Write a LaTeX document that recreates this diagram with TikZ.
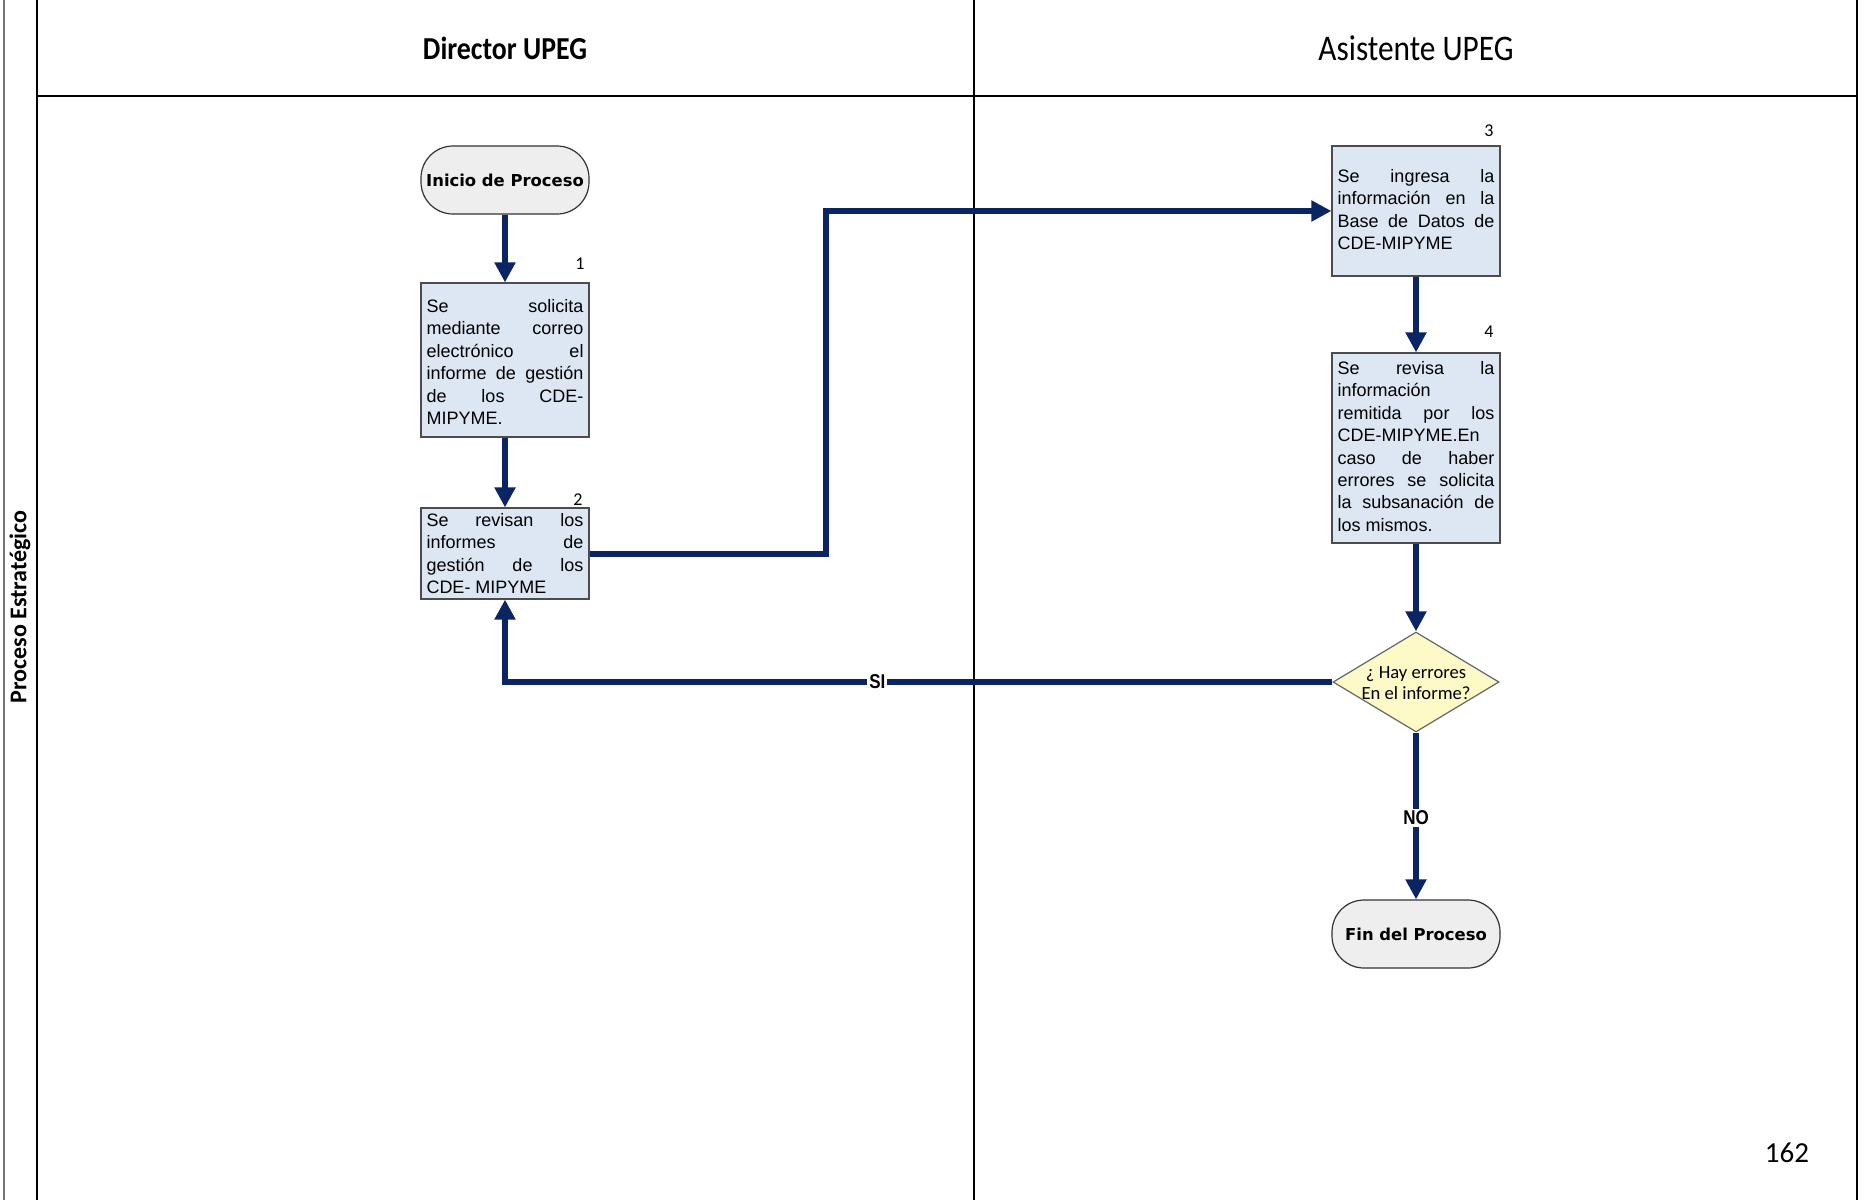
\documentclass[tikz,border=0pt]{standalone}
\usepackage{fontspec}
\usetikzlibrary{arrows.meta,shapes.geometric}
\newfontfamily\boxfont{Liberation Sans}
\newfontfamily\termfont{DejaVu Sans}
\newfontfamily\calfont{Carlito}
\newfontfamily\hdrfont[FakeStretch=0.87]{Carlito}
\newfontfamily\narrowfont[FakeStretch=0.85]{Liberation Sans}
\definecolor{flowblue}{RGB}{10,36,100}
\definecolor{boxblue}{RGB}{221,231,243}
\definecolor{termgray}{RGB}{238,238,238}
\definecolor{decyellow}{RGB}{253,250,200}
% paragraph settings for the justified step texts: no hyphenation, no extra breaks
\newcommand\stepparsettings{\hyphenpenalty=10000 \exhyphenpenalty=10000 \tolerance=10000 \hbadness=10000\relax}
\tikzset{
  lane/.style={line width=1pt, draw=black},
  stepbox/.style={rectangle, draw=black!70, fill=boxblue, line width=0.6pt,
    minimum width=84pt, inner sep=0pt},
  steptext/.style={anchor=north, inner sep=0pt, text width=78.5pt, align=justify,
    font=\boxfont\fontsize{9}{11.2}\selectfont\stepparsettings},
  terminal/.style={rectangle, rounded corners=16pt, draw=black!80, fill=termgray,
    line width=0.6pt, minimum width=84pt, minimum height=34pt, inner xsep=1pt,
    font=\termfont\bfseries\fontsize{8.2}{10}\selectfont},
  decision/.style={diamond, draw=black!60, fill=decyellow, line width=0.6pt,
    minimum width=83pt, minimum height=50pt, inner sep=0pt},
  dectext/.style={align=center, inner sep=0pt, font=\calfont\fontsize{9.3}{10.7}\selectfont},
  numlabel/.style={inner sep=0pt, font=\calfont\fontsize{9}{10}\selectfont},
  flow/.style={draw=flowblue, line width=3pt, line join=miter,
    -{Triangle[width=10pt,length=10pt]}},
  flowlabel/.style={fill=white, inner sep=1pt, text=black,
    font=\narrowfont\bfseries\fontsize{10}{11}\selectfont},
}
\begin{document}
\begin{tikzpicture}[x=0.5pt,y=-0.5pt]
\useasboundingbox (0,0) rectangle (1866,1200);

% swimlane frame
\draw[line width=1.2pt, black!55] (4,0) -- (4,1200);
\draw[lane] (37,0) -- (37,1200);
\draw[lane] (974,0) -- (974,1200);
\draw[lane] (1857,0) -- (1857,1200);
\draw[lane, line width=1.3pt] (37,96) -- (1857,96);

% headers
\node[font=\hdrfont\bfseries\fontsize{16}{18}\selectfont] (hdir) at (505,48) {Director UPEG};
\node[font=\hdrfont\fontsize{18}{20}\selectfont] (hasi) at (1416,48) {Asistente UPEG};
\node[rotate=90, font=\calfont\bfseries\fontsize{12}{14}\selectfont] (lanename) at (20,607) {Proceso Estratégico};
\node[font=\calfont\fontsize{14.5}{16}\selectfont] (page) at (1787,1153) {162};

% Director UPEG lane
\node[terminal] (start) at (505,180) {Inicio de Proceso};

\node[stepbox, minimum height=77pt] (s1) at (505,360) {};
\node[steptext] (s1t) at (505,299) {Se solicita\linebreak mediante correo\linebreak electrónico el\linebreak informe de gestión\linebreak de los CDE-\linebreak MIPYME.};
\node[numlabel] (n1) at (580,264) {1};

\node[stepbox, minimum height=45.5pt] (s2) at (505,553.5) {};
\node[steptext] (s2t) at (505,513) {Se revisan los\linebreak informes de\linebreak gestión de los\linebreak CDE- MIPYME};
\node[numlabel] (n2) at (578,500) {2};

% Asistente UPEG lane
\node[stepbox, minimum height=65pt] (s3) at (1416,211) {};
\node[steptext] (s3t) at (1416,169) {Se ingresa la\linebreak información en la\linebreak Base de Datos de\linebreak CDE-MIPYME};
\node[numlabel] (n3) at (1489,131) {3};

\node[stepbox, minimum height=95pt] (s4) at (1416,448) {};
\node[steptext] (s4t) at (1416,361) {Se revisa la\linebreak información\newline remitida por los\linebreak CDE-MIPYME.En\newline caso de haber\linebreak errores se solicita\linebreak la subsanación de\linebreak los mismos.};
\node[numlabel] (n4) at (1489,332) {4};

\node[decision] (q) at (1416,682) {};
\node[dectext] (qt) at (1416,683) {¿ Hay errores\\En el informe?};

\node[terminal] (end) at (1416,934) {Fin del Proceso};

% connectors
\coordinate (j1) at (826,211);
\draw[flow] (start) -- (s1);
\draw[flow] (s1) -- (s2);
\draw[flow] (s2.east) -| (j1) -- (s3.west);
\draw[flow] (s3) -- (s4);
\draw[flow] (s4) -- (q);
\draw[flow] (q.west) -| node[flowlabel, pos=0.275] (si) {SI} (s2.south);
\draw[flow] (q.south) -- node[flowlabel, pos=0.51] (no) {NO} (end.north);
\end{tikzpicture}
\end{document}
